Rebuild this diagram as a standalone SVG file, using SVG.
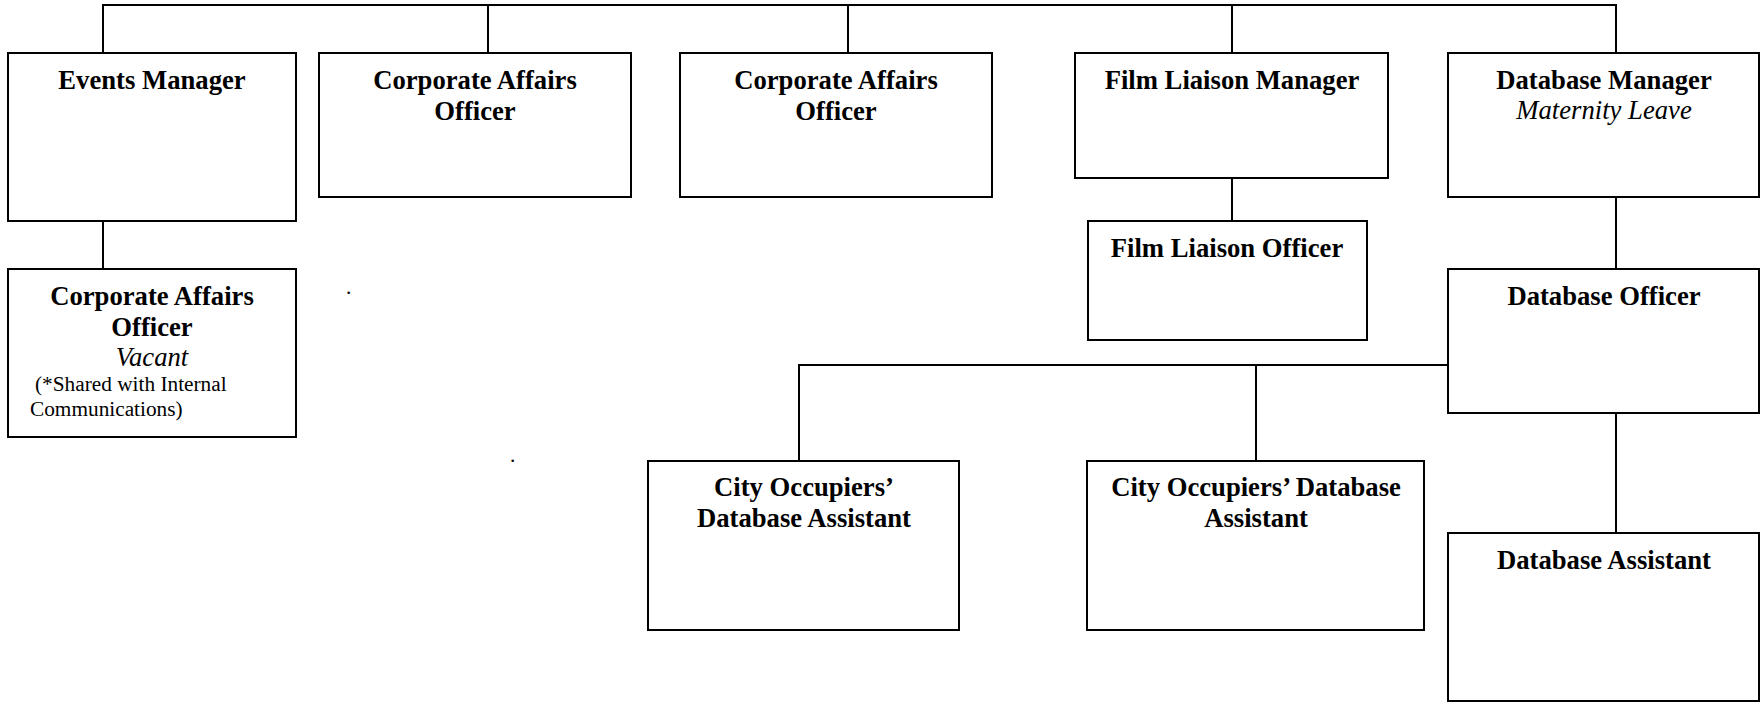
<svg xmlns="http://www.w3.org/2000/svg" width="1760" height="702" viewBox="0 0 1760 702">
<style>
rect.box{fill:#fff;stroke:#000;stroke-width:2}
.conn path{fill:none;stroke:#000;stroke-width:2}
text{font-family:"Liberation Serif","Times New Roman",serif;fill:#000}
.t{font-size:26.67px;font-weight:bold;text-anchor:middle}
.i{font-size:26.67px;font-style:italic;text-anchor:middle}
.s{font-size:21.3px}
</style>
<rect width="1760" height="702" fill="#fff"/>
<g class="conn" id="connectors">
<path d="M103 53V5H1616V53"/>
<path d="M488 5V53"/>
<path d="M848 5V53"/>
<path d="M1232 5V53"/>
<path d="M103 221V269"/>
<path d="M1232 178V221"/>
<path d="M1616 197V269"/>
<path d="M1616 413V533"/>
<path d="M1448 365H799V461"/>
<path d="M1256 365V461"/>
</g>
<g id="events-manager">
<rect class="box" x="8" y="53" width="288" height="168"/>
<text class="t" x="152" y="89">Events Manager</text>
</g>
<g id="corporate-affairs-officer-1">
<rect class="box" x="319" y="53" width="312" height="144"/>
<text class="t" x="475" y="89">Corporate Affairs</text>
<text class="t" x="475" y="120">Officer</text>
</g>
<g id="corporate-affairs-officer-2">
<rect class="box" x="680" y="53" width="312" height="144"/>
<text class="t" x="836" y="89">Corporate Affairs</text>
<text class="t" x="836" y="120">Officer</text>
</g>
<g id="film-liaison-manager">
<rect class="box" x="1075" y="53" width="313" height="125"/>
<text class="t" x="1232" y="89">Film Liaison Manager</text>
</g>
<g id="database-manager">
<rect class="box" x="1448" y="53" width="311" height="144"/>
<text class="t" x="1604" y="89">Database Manager</text>
<text class="i" x="1604" y="119">Maternity Leave</text>
</g>
<g id="film-liaison-officer">
<rect class="box" x="1088" y="221" width="279" height="119"/>
<text class="t" x="1227" y="257">Film Liaison Officer</text>
</g>
<g id="corporate-affairs-officer-vacant">
<rect class="box" x="8" y="269" width="288" height="168"/>
<text class="t" x="152" y="305">Corporate Affairs</text>
<text class="t" x="152" y="336">Officer</text>
<text class="i" x="152" y="366">Vacant</text>
<text class="s" x="35" y="391">(*Shared with Internal</text>
<text class="s" x="30" y="416">Communications)</text>
</g>
<g id="database-officer">
<rect class="box" x="1448" y="269" width="311" height="144"/>
<text class="t" x="1604" y="305">Database Officer</text>
</g>
<g id="database-assistant">
<rect class="box" x="1448" y="533" width="311" height="168"/>
<text class="t" x="1604" y="569">Database Assistant</text>
</g>
<g id="city-occupiers-database-assistant-1">
<rect class="box" x="648" y="461" width="311" height="169"/>
<text class="t" x="804" y="496">City Occupiers’</text>
<text class="t" x="804" y="527">Database Assistant</text>
</g>
<g id="city-occupiers-database-assistant-2">
<rect class="box" x="1087" y="461" width="337" height="169"/>
<text class="t" x="1256" y="496">City Occupiers’ Database</text>
<text class="t" x="1256" y="527">Assistant</text>
</g>
<g id="stray-dots">
<text class="s" x="346" y="294">.</text>
<text class="s" x="510" y="462">.</text>
</g>
</svg>
